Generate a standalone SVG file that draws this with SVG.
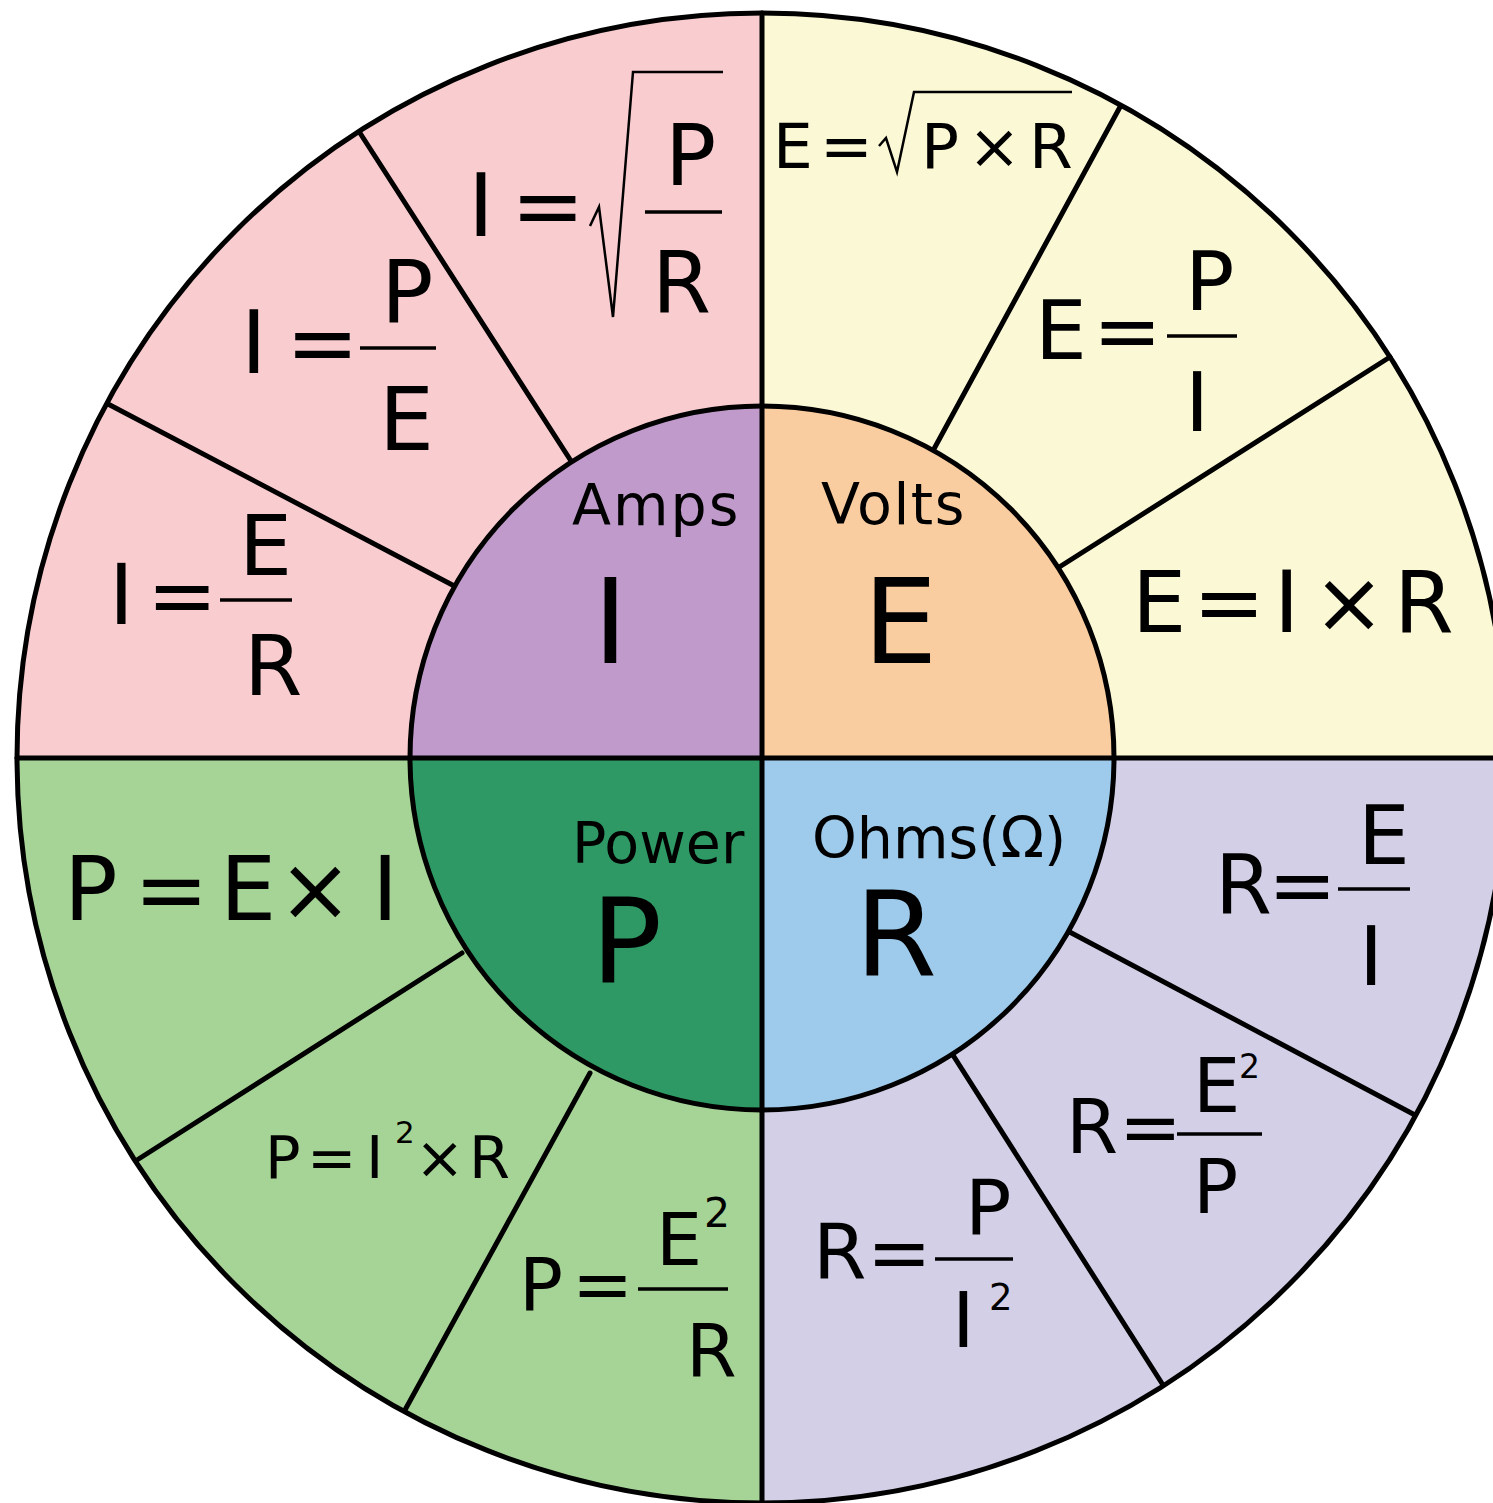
<svg xmlns="http://www.w3.org/2000/svg" width="1493" height="1503" viewBox="0 0 1493 1503">
<style>
text{font-family:"DejaVu Sans","Liberation Sans",sans-serif;fill:#000}
.ln{stroke:#000;stroke-width:5;fill:none;stroke-linecap:round}
.bar{stroke:#000;stroke-width:3.5}
.rad{stroke:#000;stroke-width:2.5;fill:none;stroke-linejoin:miter}
.lbl{font-size:57px}
.big{font-size:118px}
</style>
<rect width="1493" height="1503" fill="#fff"/>
<g id="quad-amps"><path d="M762,758 L17,758 A745,745 0 0 1 762,13 Z" fill="#f9ccd0"/></g>
<g id="quad-volts"><path d="M762,758 L762,13 A745,745 0 0 1 1507,758 Z" fill="#fbf8d6"/></g>
<g id="quad-ohms"><path d="M762,758 L1507,758 A745,745 0 0 1 762,1503 Z" fill="#d3cfe6"/></g>
<g id="quad-power"><path d="M762,758 L762,1503 A745,745 0 0 1 17,758 Z" fill="#a6d396"/></g>
<g id="connectors">
<line class="ln" x1="360" y1="133" x2="600" y2="506"/>
<line class="ln" x1="108" y1="404" x2="500" y2="610"/>
<line class="ln" x1="1120" y1="107" x2="910" y2="493"/>
<line class="ln" x1="1390" y1="357" x2="1020" y2="592"/>
<line class="ln" x1="1415" y1="1115" x2="1030" y2="911"/>
<line class="ln" x1="1163" y1="1385" x2="930" y2="1019"/>
<line class="ln" x1="462" y1="953" x2="137" y2="1160"/>
<line class="ln" x1="590" y1="1073" x2="405" y2="1410"/>
</g>
<g id="center-amps"><path d="M762,758 L410,758 A352,352 0 0 1 762,406 Z" fill="#bf9aca"/>
<text class="lbl" x="572" y="525" letter-spacing="2">Amps</text><text class="big" x="593" y="663">I</text></g>
<g id="center-volts"><path d="M762,758 L762,406 A352,352 0 0 1 1114,758 Z" fill="#f9cda0"/>
<text class="lbl" x="821" y="524" letter-spacing="1.5">Volts</text><text class="big" x="863" y="663">E</text></g>
<g id="center-ohms"><path d="M762,758 L1114,758 A352,352 0 0 1 762,1110 Z" fill="#9ecbec"/>
<text class="lbl" x="812" y="858">Ohms(Ω)</text><text class="big" x="855" y="975">R</text></g>
<g id="center-power"><path d="M762,758 L762,1110 A352,352 0 0 1 410,758 Z" fill="#2e9964"/>
<text class="lbl" x="572" y="863">Power</text><text class="big" x="591" y="983">P</text></g>
<g id="frame">
<circle class="ln" cx="762" cy="758" r="352"/>
<circle class="ln" cx="762" cy="758" r="745"/>
<line class="ln" x1="762" y1="13" x2="762" y2="1503"/>
<line class="ln" x1="17" y1="758" x2="1493" y2="758"/>
</g>
<g id="f-i-sqrt">
<text font-size="88"><tspan x="468" y="236">I</tspan><tspan x="511" y="236">=</tspan></text>
<path class="rad" d="M590,226 L599,207 L613,317 L633,72 L723,72"/>
<text font-size="85"><tspan x="665" y="185">P</tspan><tspan x="652" y="312">R</tspan></text>
<line class="bar" x1="645" y1="212" x2="722" y2="212"/>
</g>
<g id="f-i-pe">
<text font-size="87"><tspan x="241" y="373">I</tspan><tspan x="286" y="373">=</tspan><tspan x="381" y="323">P</tspan><tspan x="379" y="450">E</tspan></text>
<line class="bar" x1="360" y1="348" x2="436" y2="348"/>
</g>
<g id="f-i-er">
<text font-size="84"><tspan x="109" y="624">I</tspan><tspan x="147" y="624">=</tspan><tspan x="239" y="575">E</tspan><tspan x="244" y="695">R</tspan></text>
<line class="bar" x1="220" y1="600" x2="292" y2="600"/>
</g>
<g id="f-e-sqrt">
<text font-size="63"><tspan x="773" y="168">E</tspan><tspan x="820" y="168">=</tspan><tspan x="921" y="168">P</tspan><tspan x="968" y="168">×</tspan><tspan x="1029" y="168">R</tspan></text>
<path class="rad" d="M879,146 L886,138 L897,172 L914,92 L1072,92"/>
</g>
<g id="f-e-pi">
<text font-size="82"><tspan x="1035" y="359">E</tspan><tspan x="1093" y="359">=</tspan><tspan x="1185" y="310">P</tspan><tspan x="1185" y="431">I</tspan></text>
<line class="bar" x1="1167" y1="336" x2="1237" y2="336"/>
</g>
<g id="f-e-ir">
<text font-size="86"><tspan x="1132" y="632">E</tspan><tspan x="1193" y="632">=</tspan><tspan x="1274" y="632">I</tspan><tspan x="1313" y="632">×</tspan><tspan x="1394" y="632">R</tspan></text>
</g>
<g id="f-p-ei">
<text font-size="89"><tspan x="64" y="920">P</tspan><tspan x="134" y="920">=</tspan><tspan x="220" y="920">E</tspan><tspan x="278" y="920">×</tspan><tspan x="372" y="920">I</tspan></text>
</g>
<g id="f-p-i2r">
<text font-size="59"><tspan x="265" y="1178">P</tspan><tspan x="307" y="1178">=</tspan><tspan x="366" y="1178">I</tspan><tspan x="395" y="1143" font-size="31">2</tspan><tspan x="415" y="1178">×</tspan><tspan x="469" y="1178">R</tspan></text>
</g>
<g id="f-p-e2r">
<text font-size="73"><tspan x="519" y="1310">P</tspan><tspan x="572" y="1310">=</tspan><tspan x="656" y="1265">E</tspan><tspan x="704" y="1227" font-size="41">2</tspan><tspan x="686" y="1377">R</tspan></text>
<line class="bar" x1="638" y1="1289" x2="728" y2="1289"/>
</g>
<g id="f-r-ei">
<text font-size="82"><tspan x="1215" y="913">R</tspan><tspan x="1268" y="913">=</tspan><tspan x="1358" y="864">E</tspan><tspan x="1359" y="985">I</tspan></text>
<line class="bar" x1="1338" y1="889" x2="1410" y2="889"/>
</g>
<g id="f-r-e2p">
<text font-size="75"><tspan x="1066" y="1153">R</tspan><tspan x="1119" y="1153">=</tspan><tspan x="1193" y="1112">E</tspan><tspan x="1239" y="1078" font-size="33">2</tspan><tspan x="1193" y="1213">P</tspan></text>
<line class="bar" x1="1177" y1="1134" x2="1262" y2="1134"/>
</g>
<g id="f-r-pi2">
<text font-size="77"><tspan x="813" y="1279">R</tspan><tspan x="867" y="1279">=</tspan><tspan x="965" y="1235">P</tspan><tspan x="952" y="1347">I</tspan><tspan x="989" y="1310" font-size="37">2</tspan></text>
<line class="bar" x1="935" y1="1259" x2="1013" y2="1259"/>
</g>
</svg>
